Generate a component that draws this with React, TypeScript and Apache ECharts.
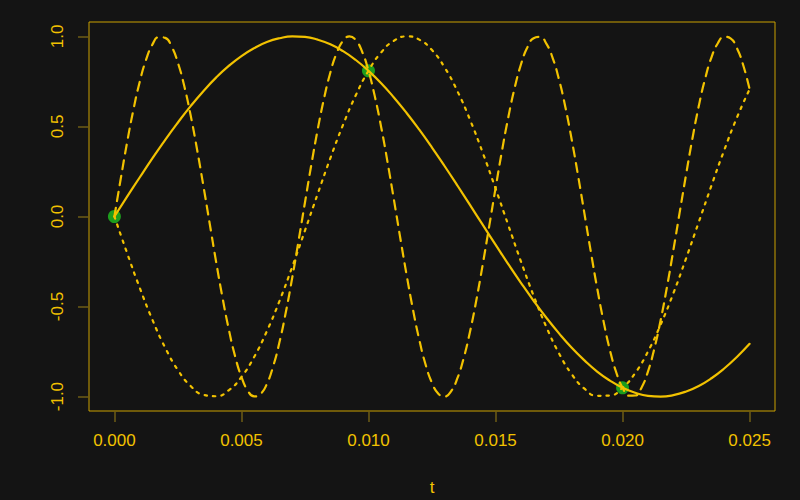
import React, { useEffect, useRef } from 'react'
import * as echarts from 'echarts'

// sample times (s)
const tValues = [
  0, 0.0005, 0.001, 0.0015, 0.002, 0.0025, 0.003, 0.0035, 0.004, 0.0045,
  0.005, 0.0055, 0.006, 0.0065, 0.007, 0.0075, 0.008, 0.0085, 0.009, 0.0095,
  0.01, 0.0105, 0.011, 0.0115, 0.012, 0.0125, 0.013, 0.0135, 0.014, 0.0145,
  0.015, 0.0155, 0.016, 0.0165, 0.017, 0.0175, 0.018, 0.0185, 0.019, 0.0195,
  0.02, 0.0205, 0.021, 0.0215, 0.022, 0.0225, 0.023, 0.0235, 0.024, 0.0245,
  0.025,
]

// finer times for the fast dashed curve
const tFine = [
  0, 0.00025, 0.0005, 0.00075, 0.001, 0.00125, 0.0015, 0.00175, 0.002, 0.00225,
  0.0025, 0.00275, 0.003, 0.00325, 0.0035, 0.00375, 0.004, 0.00425, 0.0045, 0.00475,
  0.005, 0.00525, 0.0055, 0.00575, 0.006, 0.00625, 0.0065, 0.00675, 0.007, 0.00725,
  0.0075, 0.00775, 0.008, 0.00825, 0.0085, 0.00875, 0.009, 0.00925, 0.0095, 0.00975,
  0.01, 0.01025, 0.0105, 0.01075, 0.011, 0.01125, 0.0115, 0.01175, 0.012, 0.01225,
  0.0125, 0.01275, 0.013, 0.01325, 0.0135, 0.01375, 0.014, 0.01425, 0.0145, 0.01475,
  0.015, 0.01525, 0.0155, 0.01575, 0.016, 0.01625, 0.0165, 0.01675, 0.017, 0.01725,
  0.0175, 0.01775, 0.018, 0.01825, 0.0185, 0.01875, 0.019, 0.01925, 0.0195, 0.01975,
  0.02, 0.02025, 0.0205, 0.02075, 0.021, 0.02125, 0.0215, 0.02175, 0.022, 0.02225,
  0.0225, 0.02275, 0.023, 0.02325, 0.0235, 0.02375, 0.024, 0.02425, 0.0245, 0.02475,
  0.025,
]

// solid curve
const solidY = [
  0, 0.11, 0.218, 0.324, 0.426, 0.522, 0.613, 0.696, 0.771, 0.836,
  0.891, 0.935, 0.969, 0.99, 1.0, 0.997, 0.982, 0.956, 0.918, 0.869,
  0.809, 0.74, 0.661, 0.575, 0.482, 0.383, 0.279, 0.172, 0.063, -0.047,
  -0.156, -0.264, -0.368, -0.468, -0.562, -0.649, -0.729, -0.799, -0.861, -0.911,
  -0.951, -0.979, -0.996, -1.0, -0.992, -0.972, -0.941, -0.898, -0.844, -0.78,
  -0.707,
]

// dashed curve (on tFine)
const dashedY = [
  0, 0.21, 0.412, 0.594, 0.75, 0.872, 0.956, 0.996, 0.992, 0.944,
  0.853, 0.724, 0.562, 0.375, 0.172, -0.039, -0.249, -0.447, -0.625, -0.776,
  -0.891, -0.967, -0.999, -0.986, -0.93, -0.831, -0.696, -0.529, -0.339, -0.133,
  0.078, 0.287, 0.482, 0.655, 0.8, 0.908, 0.976, 1.0, 0.979, 0.915,
  0.809, 0.667, 0.496, 0.302, 0.094, -0.118, -0.324, -0.516, -0.685, -0.823,
  -0.924, -0.984, -0.9995, -0.971, -0.898, -0.785, -0.637, -0.461, -0.264, -0.055,
  0.156, 0.361, 0.549, 0.712, 0.844, 0.938, 0.99, 0.9975, 0.96, 0.88,
  0.76, 0.607, 0.426, 0.226, 0.016, -0.195, -0.397, -0.581, -0.74, -0.865,
  -0.951, -0.995, -0.994, -0.949, -0.861, -0.734, -0.575, -0.39, -0.187, 0.024,
  0.233, 0.433, 0.613, 0.765, 0.884, 0.962, 0.998, 0.989, 0.935, 0.84,
  0.707,
]

// dotted curve
const dottedY = [
  0, -0.203, -0.397, -0.575, -0.729, -0.853, -0.941, -0.99, -0.998, -0.965,
  -0.891, -0.78, -0.637, -0.468, -0.279, -0.078, 0.125, 0.324, 0.509, 0.673,
  0.809, 0.911, 0.976, 1.0, 0.982, 0.924, 0.827, 0.696, 0.536, 0.353,
  0.156, -0.047, -0.249, -0.44, -0.613, -0.76, -0.876, -0.956, -0.996, -0.994,
  -0.951, -0.869, -0.75, -0.6, -0.426, -0.233, -0.031, 0.172, 0.368, 0.549,
  0.707,
]

// sampled points (green)
const sampleT = [0, 0.01, 0.02]
const sampleY = [0, 0.809, -0.951]

const xTicks = [0, 0.005, 0.01, 0.015, 0.02, 0.025]
const yTicks = [-1, -0.5, 0, 0.5, 1]

const GOLD = '#f2c200'
const BOX = '#c9a000'
const TICK = '#6e5c14'
const BG = '#141414'
const FONT = '"Liberation Sans", Arial, sans-serif'

const zip = (xs: number[], ys: number[]) => xs.map((x, i) => [x, ys[i]])

const App: React.FC = () => {
  const chartRef = useRef<HTMLDivElement | null>(null)

  useEffect(() => {
    if (!chartRef.current) return
    const chart = echarts.init(chartRef.current, undefined, { renderer: 'svg' })

    const lineSeries = (xs: number[], ys: number[], type: any) => ({
      type: 'line',
      data: zip(xs, ys),
      smooth: true,
      showSymbol: false,
      symbol: 'none',
      z: 3,
      lineStyle: { color: GOLD, width: 2.2, type, cap: 'round' },
    })

    chart.setOption({
      animation: false,
      backgroundColor: BG,
      grid: {
        left: 89,
        right: 25,
        top: 22,
        bottom: 89,
        outerBoundsMode: 'none',
        show: true,
        borderColor: BOX,
        borderWidth: 1,
        backgroundColor: 'transparent',
      },
      xAxis: {
        type: 'value',
        min: -0.001,
        max: 0.026,
        name: 't',
        nameLocation: 'middle',
        nameGap: 68,
        nameTextStyle: { color: GOLD, fontSize: 17, fontFamily: FONT },
        axisLine: { show: false, onZero: false },
        splitLine: { show: false },
        axisTick: {
          show: true,
          length: 11,
          customValues: xTicks,
          lineStyle: { color: TICK, width: 1.5 },
        },
        axisLabel: {
          customValues: xTicks,
          margin: 21,
          color: GOLD,
          fontSize: 17,
          fontFamily: FONT,
          formatter: (v: number) => v.toFixed(3),
        },
      },
      yAxis: {
        type: 'value',
        min: -1.08,
        max: 1.08,
        axisLine: { show: false, onZero: false },
        splitLine: { show: false },
        axisTick: {
          show: true,
          length: 11,
          customValues: yTicks,
          lineStyle: { color: TICK, width: 1.5 },
        },
        axisLabel: {
          customValues: yTicks,
          rotate: 90,
          margin: 23,
          color: GOLD,
          fontSize: 17,
          fontFamily: FONT,
          formatter: (v: number) => v.toFixed(1),
        },
      },
      series: [
        {
          type: 'scatter',
          data: zip(sampleT, sampleY),
          symbol: 'circle',
          symbolSize: 13,
          z: 1,
          itemStyle: { color: '#1fbf1f' },
        },
        lineSeries(tValues, solidY, 'solid'),
        lineSeries(tFine, dashedY, [9, 7]),
        lineSeries(tValues, dottedY, [2.5, 6]),
      ],
    })

    return () => {
      chart.dispose()
    }
  }, [])

  return (
    <div
      ref={chartRef}
      style={{ position: 'fixed', left: 0, top: 0, width: 800, height: 500, background: BG }}
    />
  )
}

export default App
